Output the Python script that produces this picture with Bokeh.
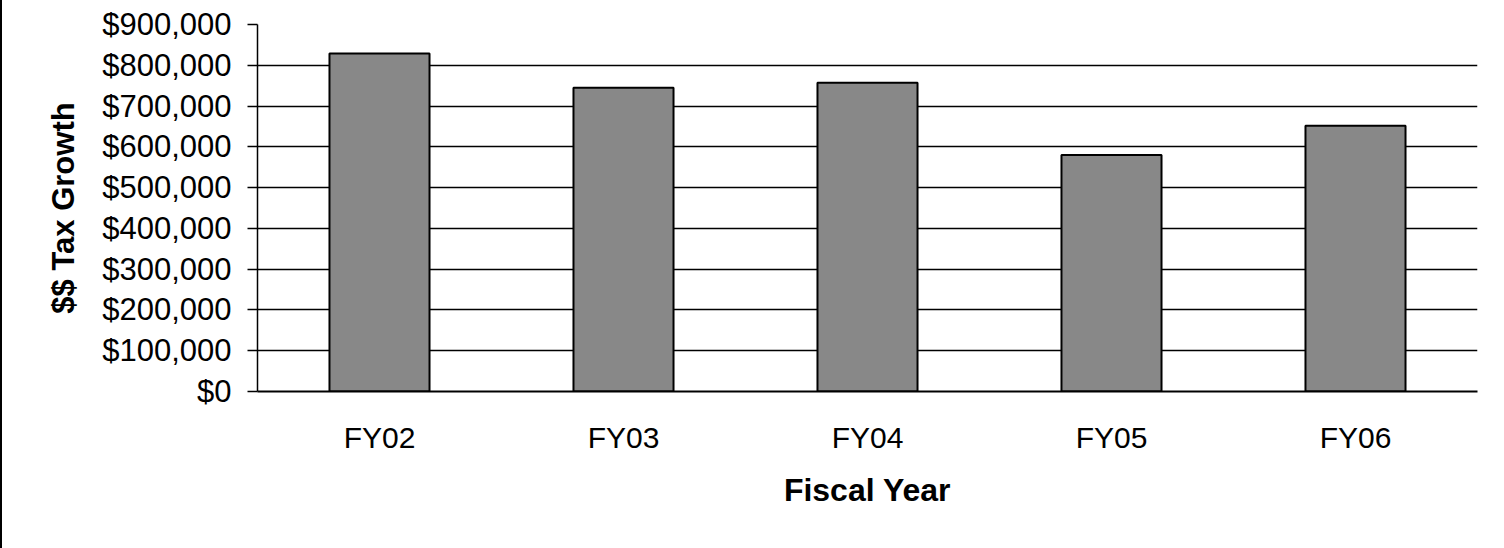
from bokeh.plotting import figure
from bokeh.models import FactorRange, Range1d, NumeralTickFormatter, FixedTicker, ColumnDataSource
from bokeh.embed import file_html
from bokeh.resources import INLINE

years = ["FY02", "FY03", "FY04", "FY05", "FY06"]
tax_growth = [829000, 745000, 757000, 580000, 652000]
y_ticks = [0, 100000, 200000, 300000, 400000, 500000, 600000, 700000, 800000, 900000]
grid_ticks = [100000, 200000, 300000, 400000, 500000, 600000, 700000, 800000]

src = ColumnDataSource(dict(x=years, top=tax_growth))

p = figure(width=1504, height=548, output_backend="svg", toolbar_location=None,
           x_range=FactorRange(*years, range_padding=0), y_range=Range1d(0, 900000),
           min_border_left=255, min_border_right=29, min_border_top=24, min_border_bottom=157)
p.outline_line_color = None
p.background_fill_color = "white"
p.border_fill_color = "white"

p.vbar(x="x", top="top", width=0.41, source=src, fill_color="#888888",
       line_color="black", line_width=2)

font = "Liberation Sans"
# y axis
p.yaxis.ticker = FixedTicker(ticks=y_ticks)
p.yaxis.formatter = NumeralTickFormatter(format="$0,0")
p.yaxis.major_tick_out = 10
p.yaxis.major_tick_in = 0
p.yaxis.minor_tick_line_color = None
p.yaxis.major_label_text_font = font
p.yaxis.major_label_text_font_size = "31px"
p.yaxis.major_label_text_color = "black"
p.yaxis.major_label_standoff = 16
p.yaxis.axis_line_color = "black"
p.yaxis.axis_line_width = 1.5
p.yaxis.major_tick_line_color = "black"
p.yaxis.major_tick_line_width = 1.5
p.yaxis.axis_label = "$$ Tax Growth"
p.yaxis.axis_label_text_font = font
p.yaxis.axis_label_text_font_style = "bold"
p.yaxis.axis_label_text_font_size = "31px"
p.yaxis.axis_label_text_color = "black"
p.yaxis.axis_label_standoff = 18

# x axis
p.xaxis.major_tick_line_color = None
p.xaxis.minor_tick_line_color = None
p.xaxis.axis_line_color = "black"
p.xaxis.axis_line_width = 2
p.xaxis.major_label_text_font = font
p.xaxis.major_label_text_font_size = "30px"
p.xaxis.major_label_text_color = "black"
p.xaxis.major_label_standoff = 23
p.xaxis.axis_label = "Fiscal Year"
p.xaxis.axis_label_text_font = font
p.xaxis.axis_label_text_font_style = "bold"
p.xaxis.axis_label_text_font_size = "32px"
p.xaxis.axis_label_text_color = "black"
p.xaxis.axis_label_standoff = 15

p.xgrid.grid_line_color = None
p.ygrid.ticker = FixedTicker(ticks=grid_ticks)
p.ygrid.grid_line_color = "black"
p.ygrid.grid_line_width = 1.5
p.ygrid.grid_line_alpha = 1.0

p.styles = {"border-left": "2px solid black", "box-sizing": "border-box"}

open("out.html", "w").write(file_html(p, INLINE))
